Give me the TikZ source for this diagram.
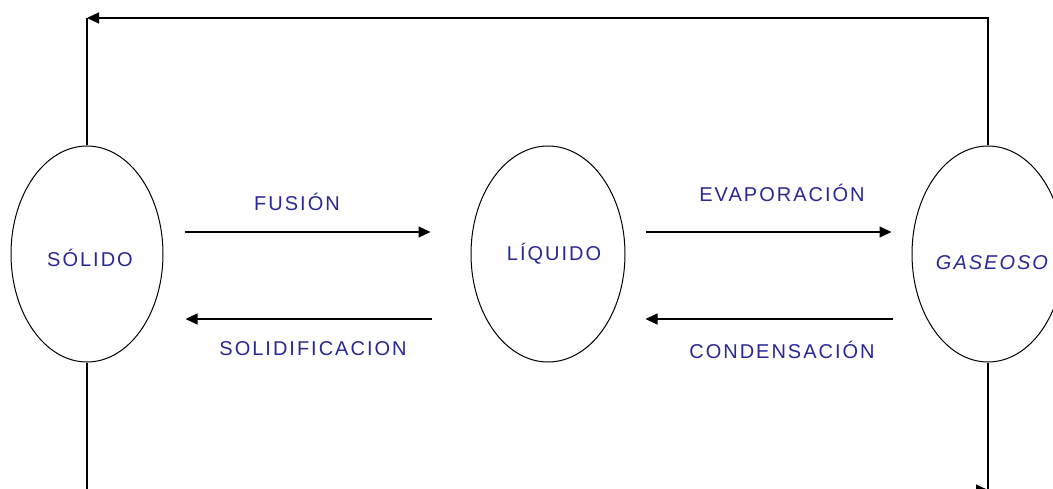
\documentclass[tikz,border=0pt]{standalone}
\usepackage{fontspec}
\setmainfont{Liberation Sans}[LetterSpace=10]
\usetikzlibrary{shapes.geometric,arrows.meta}
\definecolor{txtblue}{RGB}{40,40,150}
\tikzset{
  phase/.style={draw=black, line width=1pt, ellipse, minimum width=152pt, minimum height=216pt, inner sep=0pt},
  lbl/.style={text=txtblue, font=\fontsize{20}{23}\selectfont, inner sep=0pt},
  arr/.style={draw=black, line width=1.2pt, -{Triangle[length=12pt,width=11pt]}},
  ln/.style={draw=black, line width=1.2pt}
}
\begin{document}
\begin{tikzpicture}[x=1pt,y=1pt]
\useasboundingbox (0,0) rectangle (1053,488);
\clip (0,0) rectangle (1053,488);
\node[phase] (sol) at (87,234) {};
\node[phase, minimum width=154pt] (liq) at (548,234) {};
\node[phase] (gas) at (988,234) {};
\node[lbl] (tsol) at (90,230) {SÓLIDO};
\node[lbl] (tliq) at (554,234) {LÍQUIDO};
\node[lbl, font=\fontsize{20}{23}\selectfont\itshape] (tgas) at (992,225) {GASEOSO};
% horizontal transitions
\draw[arr] ([xshift=21pt,yshift=22pt]sol.east) -- ([xshift=-40pt,yshift=22pt]liq.west);
\draw[arr] ([xshift=-39pt,yshift=-65pt]liq.west) -- ([xshift=22pt,yshift=-65pt]sol.east);
\draw[arr] ([xshift=20pt,yshift=22pt]liq.east) -- ([xshift=-20pt,yshift=22pt]gas.west);
\draw[arr] ([xshift=-19pt,yshift=-65pt]gas.west) -- ([xshift=20pt,yshift=-65pt]liq.east);
\node[lbl] (tfus) at (297,286) {FUSIÓN};
\node[lbl] (tsolid) at (313,139) {SOLIDIFICACION};
\node[lbl] (tevap) at (782,295) {EVAPORACIÓN};
\node[lbl] (tcond) at (782,138) {CONDENSACIÓN};
% top loop
\coordinate (tl) at (sol.north |- 0,470);
\draw[arr] (gas.north) |- (tl);
\draw[ln] (tl) -- (sol.north);
% bottom loop
\coordinate (bl) at (sol.south |- 0,-2);
\coordinate (br) at (gas.south |- 0,-2);
\draw[arr] (sol.south) -- (bl) -- (br);
\draw[ln] (gas.south) -- (br);
\end{tikzpicture}
\end{document}
